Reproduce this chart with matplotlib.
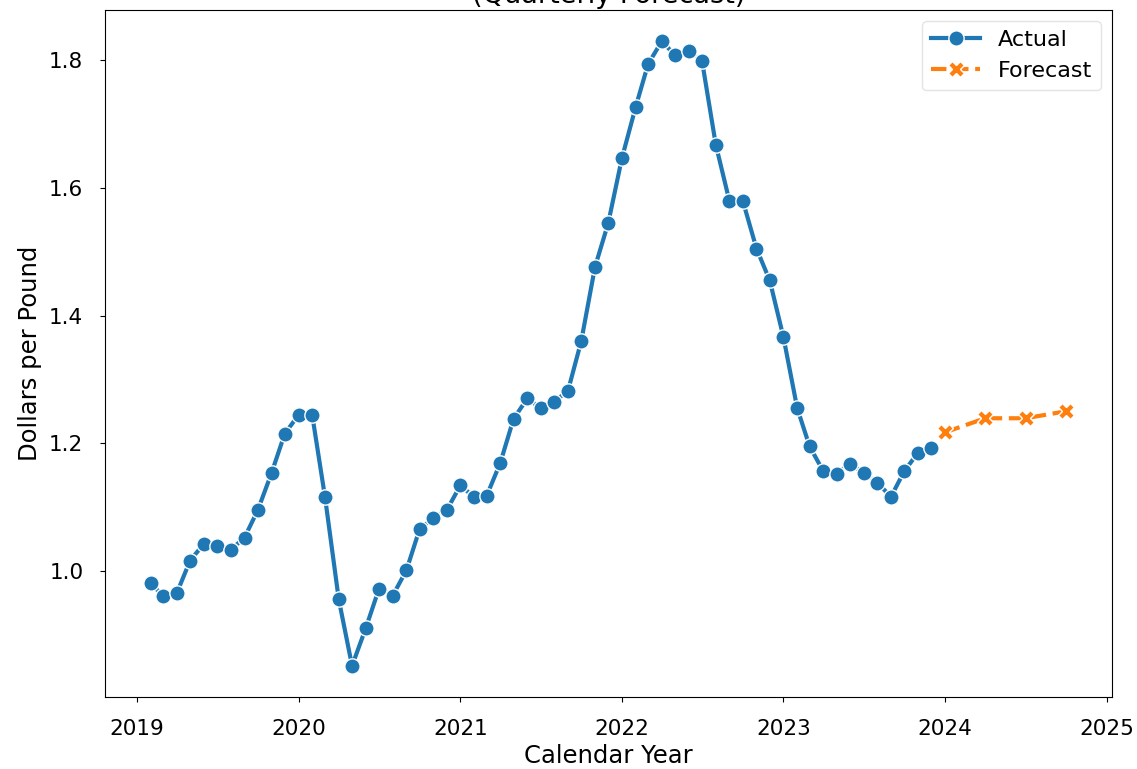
import matplotlib
matplotlib.use("Agg")
import matplotlib.pyplot as plt
import matplotlib.dates as mdates
import pandas as pd

actual_start = "2019-02-01"
actual_values = [
    0.981, 0.960, 0.965, 1.016, 1.042, 1.039, 1.033, 1.052, 1.095, 1.153, 1.215,
    1.244, 1.244, 1.115, 0.955, 0.851, 0.910, 0.972, 0.961, 1.001, 1.066, 1.082, 1.095,
    1.134, 1.115, 1.117, 1.169, 1.238, 1.270, 1.255, 1.265, 1.282, 1.360, 1.476, 1.545,
    1.647, 1.727, 1.794, 1.830, 1.808, 1.815, 1.799, 1.668, 1.579, 1.580, 1.505, 1.455,
    1.366, 1.255, 1.195, 1.156, 1.152, 1.168, 1.153, 1.138, 1.116, 1.156, 1.185, 1.192,
]
forecast_dates = ["2024-01-01", "2024-04-01", "2024-07-01", "2024-10-01"]
forecast_values = [1.217, 1.239, 1.239, 1.250]

actual_dates = pd.date_range(actual_start, periods=len(actual_values), freq="MS")
fc_dates = pd.to_datetime(forecast_dates)

plt.rcParams["font.family"] = ["DejaVu Sans"]

fig = plt.figure(figsize=(11.37, 7.69), dpi=100)
ax = fig.add_axes([0.0923, 0.0936, 0.8857, 0.8934])

ax.plot(actual_dates, actual_values, color="#1f77b4", linewidth=3, marker="o",
        markersize=11, markeredgecolor="white", markeredgewidth=1, label="Actual")
ax.plot(fc_dates, forecast_values, color="#ff7f0e", linewidth=3, linestyle="--",
        marker="X", markersize=11, markeredgecolor="white", markeredgewidth=1,
        label="Forecast")

ax.xaxis.set_major_locator(mdates.YearLocator())
ax.xaxis.set_major_formatter(mdates.DateFormatter("%Y"))
ax.set_yticks([1.0, 1.2, 1.4, 1.6, 1.8])
ax.tick_params(labelsize=15.5, pad=12)

ax.set_xlabel("Calendar Year", fontsize=17.5, labelpad=4)
ax.set_ylabel("Dollars per Pound", fontsize=17.5, labelpad=5)
ax.set_title("(Quarterly Forecast)", fontsize=19.5, pad=5)

leg = ax.legend(loc="upper right", fontsize=16, handlelength=2.2)
leg.get_frame().set_edgecolor("#dddddd")

fig.savefig("out.png", dpi=100)
